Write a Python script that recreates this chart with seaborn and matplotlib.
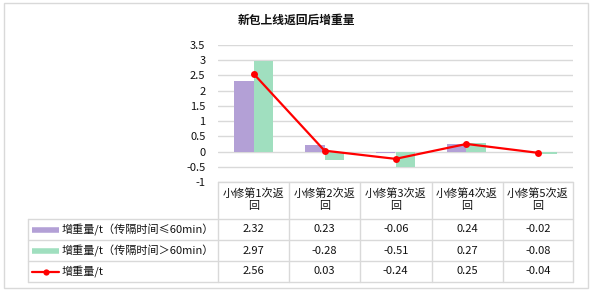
import numpy as np
import pandas as pd
import matplotlib
matplotlib.use("Agg")
import matplotlib.pyplot as plt
from matplotlib.lines import Line2D
from matplotlib.patches import Rectangle
import seaborn as sns

sns.set_theme(style="white")
plt.rcParams['font.family'] = ['Noto Sans CJK SC', 'DejaVu Sans']

# ---- data ----
categories = ["小修第1次返回", "小修第2次返回", "小修第3次返回", "小修第4次返回", "小修第5次返回"]
header_lines = [("小修第1次返", "回"), ("小修第2次返", "回"), ("小修第3次返", "回"),
                ("小修第4次返", "回"), ("小修第5次返", "回")]
series_le60 = [2.32, 0.23, -0.06, 0.24, -0.02]
series_gt60 = [2.97, -0.28, -0.51, 0.27, -0.08]
series_total = [2.56, 0.03, -0.24, 0.25, -0.04]
name_le60 = "增重量/t（传隔时间≤60min）"
name_gt60 = "增重量/t（传隔时间＞60min）"
name_total = "增重量/t"
title = "新包上线返回后增重量"
yticks = [-1, -0.5, 0, 0.5, 1, 1.5, 2, 2.5, 3, 3.5]

c_purple = "#B3A0D6"
c_green = "#A0DFBF"
c_red = "#FF0000"
c_grid = "#D9D9D9"
c_text = "#111111"

W, H = 592, 293
fig = plt.figure(figsize=(W / 100, H / 100), dpi=100)

def fx(x):
    return x / W

def fy(y):
    return 1 - y / H

# outer border
fig.patches.append(Rectangle((fx(4), fy(288)), fx(588) - fx(4), fy(3) - fy(288),
                             transform=fig.transFigure, fill=False, edgecolor=c_grid, lw=1))

L, R, T, B = 218, 573, 45, 182
ax = fig.add_axes([fx(L), fy(B), fx(R) - fx(L), fy(T) - fy(B)])

df = pd.DataFrame({
    "cat": categories * 2,
    "val": series_le60 + series_gt60,
    "series": [name_le60] * 5 + [name_gt60] * 5,
})
sns.barplot(data=df, x="cat", y="val", hue="series", order=categories,
            hue_order=[name_le60, name_gt60], palette=[c_purple, c_green],
            width=0.56, ax=ax, legend=False, zorder=2, linewidth=0, saturation=1)
sns.lineplot(x=np.arange(len(categories)), y=series_total, color=c_red, lw=1.6,
             marker="o", markersize=5, markeredgewidth=0, ax=ax, zorder=3)

ax.set_xlim(-0.5, len(categories) - 0.5)
ax.set_ylim(-1, 3.5)
ax.set_yticks(yticks)
ax.set_yticklabels([f"{v:g}" for v in yticks], fontsize=8, color=c_text)
ax.tick_params(axis="y", length=0, pad=9)
ax.set_xticks([])
ax.set_xlabel("")
ax.set_ylabel("")
ax.yaxis.grid(True, color=c_grid, lw=1)
ax.set_axisbelow(True)
for s in ax.spines.values():
    s.set_visible(False)

fig.text(fx(296.5), fy(20), title, ha="center", va="center", fontsize=8.5,
         fontweight="bold", color=c_text)

# ---- data table ----
cols = [218, 289, 360, 431.5, 502.5, 573]
rows = [219, 240, 261, 282]

def hline(x0, x1, y):
    fig.add_artist(Line2D([fx(x0), fx(x1)], [fy(y), fy(y)], transform=fig.transFigure,
                          color=c_grid, lw=1))

def vline(x, y0, y1):
    fig.add_artist(Line2D([fx(x), fx(x)], [fy(y0), fy(y1)], transform=fig.transFigure,
                          color=c_grid, lw=1))

hline(cols[0], cols[-1], B)
for y in rows:
    hline(28, cols[-1], y)
for x in cols:
    vline(x, B, rows[-1])
vline(28, rows[0], rows[-1])

for i, (l1, l2) in enumerate(header_lines):
    cx = (cols[i] + cols[i + 1]) / 2
    fig.text(fx(cx), fy(194), l1, ha="center", va="center", fontsize=8, color=c_text)
    fig.text(fx(cx), fy(206.5), l2, ha="center", va="center", fontsize=8, color=c_text)

all_series = [series_le60, series_gt60, series_total]
names = [name_le60, name_gt60, name_total]
for r, (vals, name) in enumerate(zip(all_series, names)):
    cy = (rows[r] + rows[r + 1]) / 2
    for i, v in enumerate(vals):
        cx = (cols[i] + cols[i + 1]) / 2
        fig.text(fx(cx), fy(cy), f"{v:.2f}", ha="center", va="center", fontsize=8,
                 color=c_text)
    fig.text(fx(62), fy(cy), name, ha="left", va="center", fontsize=8, color=c_text)
    if r < 2:
        col = [c_purple, c_green][r]
        fig.add_artist(Line2D([fx(32), fx(59)], [fy(cy), fy(cy)], transform=fig.transFigure,
                              color=col, lw=4, solid_capstyle="butt"))
    else:
        fig.add_artist(Line2D([fx(32), fx(59)], [fy(cy), fy(cy)], transform=fig.transFigure,
                              color=c_red, lw=1.6))
        fig.add_artist(Line2D([fx(45.5)], [fy(cy)], transform=fig.transFigure,
                              color=c_red, marker="o", markersize=4.5, markeredgewidth=0))

fig.savefig("out.png", dpi=100)
